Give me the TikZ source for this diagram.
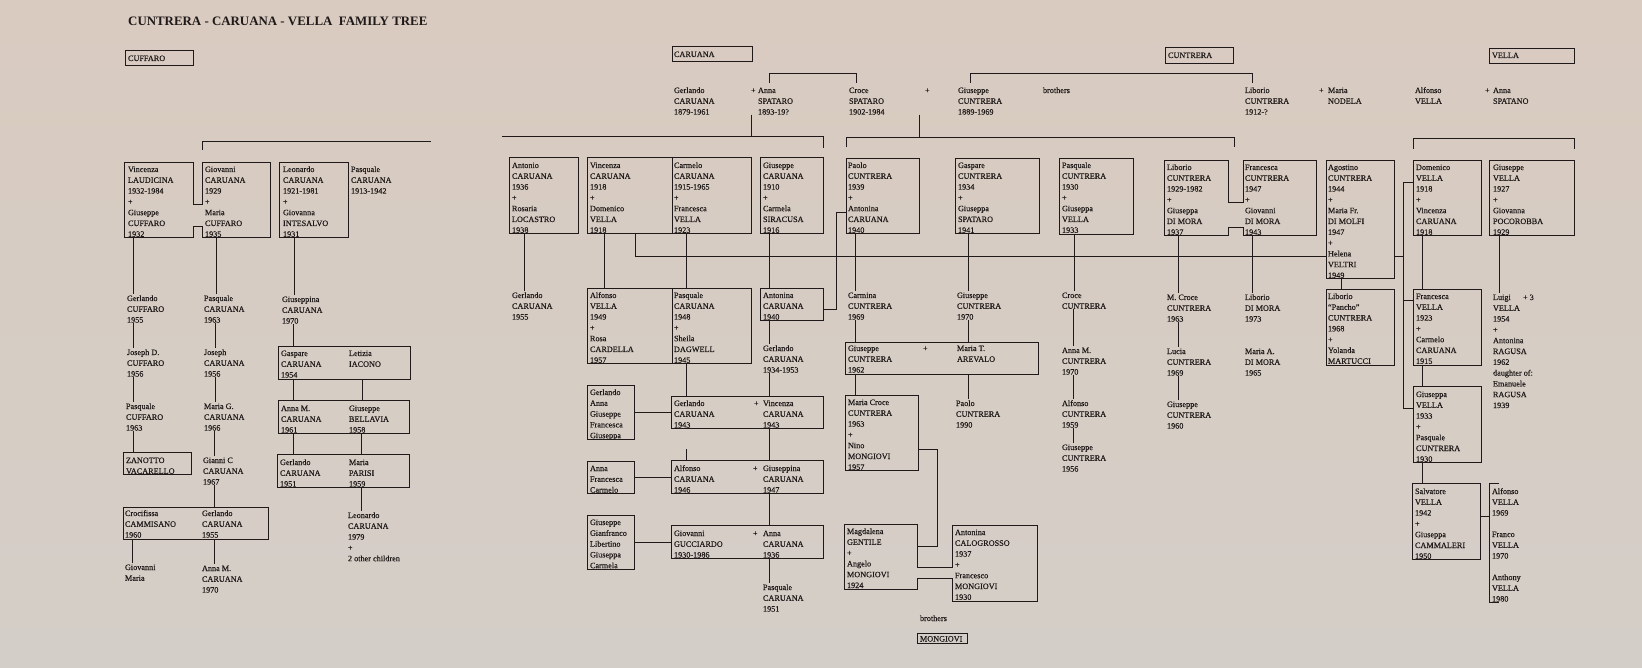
\documentclass[tikz,border=0pt]{standalone}
\usepackage{fontspec}
\setmainfont{Liberation Serif}
\newfontfamily\bodyff{Liberation Serif}[FakeBold=0.35]
\definecolor{ink}{HTML}{1F1A19}
\definecolor{paperA}{HTML}{D9CBC0}
\definecolor{paperB}{HTML}{D4CEC8}
\newcommand{\bodyfont}{\bodyff\fontsize{8.2}{10.8}\selectfont}
\newcommand{\Ptxt}[4]{\node[ptxt] (#1) at (#2,#3-7) {\rule{0pt}{7pt}#4};}
\newcommand{\Pbox}[5]{\node[pbox, minimum width={(#4-#2)*1pt}, minimum height={(#5-#3)*1pt}] (#1) at (#2,#3) {};}
\newcommand{\Pboxi}[5]{\node[pboxi, minimum width={(#4-#2)*1pt}, minimum height={(#5-#3)*1pt}] (#1) at (#2,#3) {};}
\newcommand{\Vc}[3]{\draw[conn] (#2.south -| #1,0) -- (#3.north -| #1,0);}
\begin{document}
\begin{tikzpicture}[x=1pt,y=-1pt,
  ptxt/.style={anchor=north west, inner sep=0pt, outer sep=0pt, align=left, font=\bodyfont, text=ink},
  pbox/.style={draw=ink, line width=0.9pt, anchor=north west, inner sep=0pt, outer sep=0pt},
  pboxi/.style={anchor=north west, inner sep=0pt, outer sep=0pt},
  conn/.style={draw=ink, line width=0.9pt}]
\shade[top color=paperA, bottom color=paperB] (0,0) rectangle (1642,668);
\useasboundingbox (0,0) rectangle (1642,668);

% ================= LEFT PAGE =================
\node[font=\fontsize{12.9}{14}\selectfont\bfseries, text=ink, anchor=base west, inner sep=0pt] (title) at (128,26) {CUNTRERA - CARUANA - VELLA\ \ FAMILY TREE};
\Pbox{bCuf}{125}{50}{193}{65}
\Ptxt{tCuf}{128}{61}{CUFFARO}
\coordinate (lk) at (202,150);
\draw[conn] (lk) -- (202,141) -- (431,141);

\Pboxi{bVin}{124}{162}{193}{237}
\Pboxi{bGio}{202}{162}{270}{237}
\draw[conn] (124,162) -- (193,162) -- (193,204) -- (202,204) -- (202,162) -- (270,162) -- (270,237) -- (202,237) -- (202,226) -- (193,226) -- (193,237) -- (124,237) -- cycle;
\Ptxt{tVin}{128}{172}{Vincenza\\LAUDICINA\\1932-1984\\+\\Giuseppe\\CUFFARO\\1932}
\Ptxt{tGio}{205}{172}{Giovanni\\CARUANA\\1929\\+\\Maria\\CUFFARO\\1935}
\Pbox{bLeo}{279}{162}{348}{237}
\Ptxt{tLeo}{283}{172}{Leonardo\\CARUANA\\1921-1981\\+\\Giovanna\\INTESALVO\\1931}
\Ptxt{tPasC}{351}{172}{Pasquale\\CARUANA\\1913-1942}

\Ptxt{tGerCu}{127}{301}{Gerlando\\CUFFARO\\1955}
\Ptxt{tJosD}{127}{355}{Joseph D.\\CUFFARO\\1956}
\Ptxt{tPasCu}{126}{409}{Pasquale\\CUFFARO\\1963}
\Pbox{bZan}{123}{452}{191}{474}
\Ptxt{tZan}{126}{463}{ZANOTTO\\VACARELLO}
\Vc{133}{bVin}{tGerCu}
\Vc{133}{tGerCu}{tJosD}
\Vc{133}{tJosD}{tPasCu}
\Vc{133}{tPasCu}{bZan}

\Ptxt{tPasCa}{204}{301}{Pasquale\\CARUANA\\1963}
\Ptxt{tJos}{204}{355}{Joseph\\CARUANA\\1956}
\Ptxt{tMarG}{204}{409}{Maria G.\\CARUANA\\1966}
\Ptxt{tGia}{203}{463}{Gianni C\\CARUANA\\1967}
\Pbox{bCro}{123}{507}{268}{539}
\Ptxt{tCro}{125}{516}{Crocifissa\\CAMMISANO\\1960}
\Ptxt{tGerC}{202}{516}{Gerlando\\CARUANA\\1955}
\Ptxt{tGioM}{125}{570}{Giovanni\\Maria}
\Ptxt{tAnnM}{202}{571}{Anna M.\\CARUANA\\1970}
\Vc{216}{bGio}{tPasCa}
\Vc{215}{tPasCa}{tJos}
\Vc{215}{tJos}{tMarG}
\Vc{214}{tMarG}{tGia}
\Vc{214}{tGia}{bCro}
\Vc{132}{bCro}{tGioM}
\Vc{214}{bCro}{tAnnM}

\Ptxt{tGiup}{282}{302}{Giuseppina\\CARUANA\\1970}
\Pbox{bGas}{278}{346}{410}{379}
\Ptxt{tGas}{281}{356}{Gaspare\\CARUANA\\1954}
\Ptxt{tLet}{349}{356}{Letizia\\IACONO}
\Pbox{bAnn}{278}{400}{409}{433}
\Ptxt{tAnnC}{281}{411}{Anna M.\\CARUANA\\1961}
\Ptxt{tBel}{349}{411}{Giuseppe\\BELLAVIA\\1958}
\Pbox{bGerP}{277}{454}{409}{487}
\Ptxt{tGerP}{280}{465}{Gerlando\\CARUANA\\1951}
\Ptxt{tMarP}{349}{465}{Maria\\PARISI\\1959}
\Ptxt{tLeoC}{348}{518}{Leonardo\\CARUANA\\1979\\+\\2 other children}
\Vc{294}{bLeo}{tGiup}
\Vc{293}{tGiup}{bGas}
\Vc{293}{bGas}{bAnn}
\Vc{362}{bGas}{bAnn}
\Vc{293}{bAnn}{bGerP}
\Vc{361}{bAnn}{bGerP}
\Vc{361}{bGerP}{tLeoC}

% ================= HEADERS / TOP GENERATION =================
\Pbox{bCar}{672}{46}{752}{61}
\Ptxt{tCar}{674}{57}{CARUANA}
\Ptxt{tGerl}{674}{93}{Gerlando\\CARUANA\\1879-1961}
\Ptxt{tPl1}{751}{93}{+}
\Ptxt{tAnna}{758}{93}{Anna\\SPATARO\\1893-19?}
\Ptxt{tCroce}{849}{93}{Croce\\SPATARO\\1902-1984}
\Ptxt{tPl2}{925}{93}{+}
\Ptxt{tGiuC}{958}{93}{Giuseppe\\CUNTRERA\\1889-1969}
\Ptxt{tBro1}{1043}{93}{brothers}
\Pbox{bCun}{1165}{47}{1233}{63}
\Ptxt{tCun}{1168}{58}{CUNTRERA}
\Ptxt{tLib}{1245}{93}{Liborio\\CUNTRERA\\1912-?}
\Ptxt{tPl3}{1319}{93}{+}
\Ptxt{tNod}{1328}{93}{Maria\\NODELA}
\Ptxt{tAlfV}{1415}{93}{Alfonso\\VELLA}
\Ptxt{tPl4}{1485}{93}{+}
\Ptxt{tSpa}{1493}{93}{Anna\\SPATANO}
\Pbox{bVel}{1489}{48}{1574}{63}
\Ptxt{tVel}{1492}{58}{VELLA}

\draw[conn] (769,83) -- (769,73) -- (856,73) -- (856,83);
\draw[conn] (970,83) -- (970,73) -- (1252,73) -- (1252,83);
\draw[conn] (1413,149) -- (1413,138) -- (1574,138) -- (1574,149);
\draw[conn] (tGerl.south -| 751,0) -- (751,136);
\draw[conn] (502,136) -- (823,136) -- (823,148);
\draw[conn] (tCroce.south -| 919,0) -- (919,137);
\draw[conn] (846,147) -- (846,137) -- (1234,137) -- (1234,147);

% ================= SECOND GENERATION ROW =================
\Pbox{bAnt}{509}{157}{578}{233}
\Ptxt{tAnt}{512}{168}{Antonio\\CARUANA\\1936\\+\\Rosaria\\LOCASTRO\\1938}
\Pbox{bVC}{587}{157}{751}{233}
\draw[conn] (bVC.north -| 672,0) -- (bVC.south -| 672,0);
\Ptxt{tVinC}{590}{168}{Vincenza\\CARUANA\\1918\\+\\Domenico\\VELLA\\1918}
\Ptxt{tCarm}{674}{168}{Carmelo\\CARUANA\\1915-1965\\+\\Francesca\\VELLA\\1923}
\Pbox{bGiuCa}{760}{157}{823}{233}
\Ptxt{tGiuCa}{763}{168}{Giuseppe\\CARUANA\\1910\\+\\Carmela\\SIRACUSA\\1916}
\Pbox{bPao}{846}{158}{919}{233}
\Ptxt{tPao}{848}{168}{Paolo\\CUNTRERA\\1939\\+\\Antonina\\CARUANA\\1940}
\Pbox{bGas2}{955}{158}{1039}{233}
\Ptxt{tGas2}{958}{168}{Gaspare\\CUNTRERA\\1934\\+\\Giuseppa\\SPATARO\\1941}
\Pbox{bPas2}{1059}{158}{1133}{234}
\Ptxt{tPas2}{1062}{168}{Pasquale\\CUNTRERA\\1930\\+\\Giuseppa\\VELLA\\1933}
\Pboxi{bLib}{1164}{160}{1228}{235}
\Pboxi{bFra}{1243}{160}{1316}{235}
\draw[conn] (1164,160) -- (1228,160) -- (1228,202) -- (1243,202) -- (1243,160) -- (1316,160) -- (1316,235) -- (1243,235) -- (1243,227) -- (1228,227) -- (1228,235) -- (1164,235) -- cycle;
\Ptxt{tLib2}{1167}{170}{Liborio\\CUNTRERA\\1929-1982\\+\\Giuseppa\\DI MORA\\1937}
\Ptxt{tFra}{1245}{170}{Francesca\\CUNTRERA\\1947\\+\\Giovanni\\DI MORA\\1943}
\Pbox{bAgo}{1326}{160}{1394}{278}
\Ptxt{tAgo}{1328}{170}{Agostino\\CUNTRERA\\1944\\+\\Maria Fr.\\DI MOLFI\\1947\\+\\Helena\\VELTRI\\1949}
\Pbox{bDom}{1413}{160}{1481}{235}
\Ptxt{tDom}{1416}{170}{Domenico\\VELLA\\1918\\+\\Vincenza\\CARUANA\\1918}
\Pbox{bGiuV}{1489}{160}{1574}{235}
\Ptxt{tGiuV}{1493}{170}{Giuseppe\\VELLA\\1927\\+\\Giovanna\\POCOROBBA\\1929}

% ================= CARUANA DESCENDANTS =================
\Ptxt{tGerA}{512}{298}{Gerlando\\CARUANA\\1955}
\Vc{524}{bAnt}{tGerA}
\Pbox{bAP}{587}{288}{751}{363}
\draw[conn] (bAP.north -| 672,0) -- (bAP.south -| 672,0);
\Ptxt{tAlfV2}{590}{298}{Alfonso\\VELLA\\1949\\+\\Rosa\\CARDELLA\\1957}
\Ptxt{tPasq}{674}{298}{Pasquale\\CARUANA\\1948\\+\\Sheila\\DAGWELL\\1945}
\Vc{604}{bVC}{bAP}
\Vc{686}{bVC}{bAP}
\draw[conn] (bVC.south -| 635,0) -- (635,256) -- (bAgo.west |- 0,256);
\draw[conn] (bAgo.east |- 0,256) -- (1403,256);

\Pbox{bAntC}{760}{288}{823}{320}
\Ptxt{tAntC}{763}{298}{Antonina\\CARUANA\\1940}
\Vc{769}{bGiuCa}{bAntC}
\draw[conn] (bAntC.east |- 0,309) -- (836,309) -- (836,212) -- (bPao.west |- 0,212);
\Ptxt{tGerB}{763}{351}{Gerlando\\CARUANA\\1934-1953}
\Vc{769}{bAntC}{tGerB}

\Pbox{bGV}{671}{396}{823}{428}
\Ptxt{tGerV}{674}{406}{Gerlando\\CARUANA\\1943}
\Ptxt{tPl5}{754}{406}{+}
\Ptxt{tVinV}{763}{406}{Vincenza\\CARUANA\\1943}
\Vc{769}{tGerB}{bGV}
\Vc{686}{bAP}{bGV}
\Pbox{bCh1}{587}{385}{634}{439}
\Ptxt{tCh1}{590}{395}{Gerlando\\Anna\\Giuseppe\\Francesca\\Giuseppa}
\draw[conn] (bCh1.east) -- (bGV.west |- bCh1.east);

\Pbox{bAG}{671}{460}{823}{493}
\Ptxt{tAlfC}{674}{471}{Alfonso\\CARUANA\\1946}
\Ptxt{tPl6}{753}{471}{+}
\Ptxt{tGiup2}{763}{471}{Giuseppina\\CARUANA\\1947}
\Vc{769}{bGV}{bAG}
\draw[conn] (686,449) -- (bAG.north -| 686,0);
\Pbox{bCh2}{587}{461}{634}{493}
\Ptxt{tCh2}{590}{471}{Anna\\Francesca\\Carmelo}
\draw[conn] (bCh2.east) -- (bAG.west |- bCh2.east);

\Pbox{bGA}{671}{525}{823}{558}
\Ptxt{tGucc}{674}{536}{Giovanni\\GUCCIARDO\\1930-1986}
\Ptxt{tPl7}{753}{536}{+}
\Ptxt{tAnnaC}{763}{536}{Anna\\CARUANA\\1936}
\Vc{769}{bAG}{bGA}
\Pbox{bCh3}{587}{515}{634}{569}
\Ptxt{tCh3}{590}{525}{Giuseppe\\Gianfranco\\Libertino\\Giuseppa\\Carmela}
\draw[conn] (bCh3.east) -- (bGA.west |- bCh3.east);
\Ptxt{tPasCa2}{763}{590}{Pasquale\\CARUANA\\1951}
\Vc{769}{bGA}{tPasCa2}

% ================= CUNTRERA DESCENDANTS =================
\Ptxt{tCarm2}{848}{298}{Carmina\\CUNTRERA\\1969}
\Vc{855}{bPao}{tCarm2}
\Pbox{bGM}{845}{342}{1038}{374}
\Ptxt{tGiuC2}{848}{351}{Giuseppe\\CUNTRERA\\1962}
\Ptxt{tPl8}{923}{351}{+}
\Ptxt{tMarT}{957}{351}{Maria T.\\AREVALO}
\Vc{855}{tCarm2}{bGM}
\Ptxt{tGiuC3}{957}{298}{Giuseppe\\CUNTRERA\\1970}
\Vc{968}{bGas2}{tGiuC3}
\Vc{968}{tGiuC3}{bGM}
\Ptxt{tPaoC}{956}{406}{Paolo\\CUNTRERA\\1990}
\Vc{968}{bGM}{tPaoC}
\Pbox{bMC}{845}{395}{918}{470}
\Ptxt{tMC}{848}{405}{Maria Croce\\CUNTRERA\\1963\\+\\Nino\\MONGIOVI\\1957}
\Vc{855}{bGM}{bMC}

\Pboxi{bMag}{844}{524}{917}{589}
\Pboxi{bAnto}{952}{525}{1037}{601}
\draw[conn] (844,524) -- (917,524) -- (917,567) -- (952,567) -- (952,525) -- (1037,525) -- (1037,601) -- (952,601) -- (952,578) -- (917,578) -- (917,589) -- (844,589) -- cycle;
\Ptxt{tMag}{847}{534}{Magdalena\\GENTILE\\+\\Angelo\\MONGIOVI\\1924}
\Ptxt{tAnto}{955}{535}{Antonina\\CALOGROSSO\\1937\\+\\Francesco\\MONGIOVI\\1930}
\draw[conn] (bMC.east |- 0,449) -- (937,449) -- (937,546) -- (bMag.east |- 0,546);
\Ptxt{tBro2}{920}{621}{brothers}
\Pbox{bMon}{917}{633}{967}{643}
\Ptxt{tMon}{920}{641.5}{MONGIOVI}

\Ptxt{tCro2}{1062}{298}{Croce\\CUNTRERA}
\Vc{1074}{bPas2}{tCro2}
\Ptxt{tAnnM2}{1062}{353}{Anna M.\\CUNTRERA\\1970}
\Vc{1073}{tCro2}{tAnnM2}
\Ptxt{tAlfC2}{1062}{406}{Alfonso\\CUNTRERA\\1959}
\Vc{1073}{tAnnM2}{tAlfC2}
\Ptxt{tGiuC4}{1062}{450}{Giuseppe\\CUNTRERA\\1956}
\Vc{1073}{tAlfC2}{tGiuC4}

\Ptxt{tMCr}{1167}{300}{M. Croce\\CUNTRERA\\1963}
\Vc{1178}{bLib}{tMCr}
\Ptxt{tLuc}{1167}{354}{Lucia\\CUNTRERA\\1969}
\Vc{1178}{tMCr}{tLuc}
\Ptxt{tGiuC5}{1167}{407}{Giuseppe\\CUNTRERA\\1960}
\Vc{1178}{tLuc}{tGiuC5}

\Ptxt{tLibD}{1245}{300}{Liborio\\DI MORA\\1973}
\Vc{1252}{bFra}{tLibD}
\Ptxt{tMarA}{1245}{354}{Maria A.\\DI MORA\\1965}
\Pbox{bPan}{1326}{289}{1394}{365}
\Ptxt{tPan}{1328}{299}{Liborio\\“Pancho”\\CUNTRERA\\1968\\+\\Yolanda\\MARTUCCI}
\Vc{1341}{bAgo}{bPan}

% ================= VELLA DESCENDANTS =================
\Pbox{bFraV}{1413}{289}{1481}{365}
\Ptxt{tFraV}{1416}{299}{Francesca\\VELLA\\1923\\+\\Carmelo\\CARUANA\\1915}
\Vc{1422}{bDom}{bFraV}
\Pbox{bGiuV2}{1413}{386}{1481}{462}
\Ptxt{tGiupV}{1416}{397}{Giuseppa\\VELLA\\1933\\+\\Pasquale\\CUNTRERA\\1930}
\Vc{1422}{bFraV}{bGiuV2}
\draw[conn] (bDom.west |- 0,182) -- (1403,182) -- (1403,408) -- (bGiuV2.west |- 0,408);
\draw[conn] (1403,300) -- (bFraV.west |- 0,300);
\Pbox{bSal}{1412}{483}{1480}{559}
\Ptxt{tSal}{1415}{494}{Salvatore\\VELLA\\1942\\+\\Giuseppa\\CAMMALERI\\1950}
\Vc{1422}{bGiuV2}{bSal}
\Ptxt{tAlfV3}{1492}{494}{Alfonso\\VELLA\\1969}
\Ptxt{tFraV2}{1492}{537}{Franco\\VELLA\\1970}
\Ptxt{tAnth}{1492}{580}{Anthony\\VELLA\\1980}
\draw[conn] (bSal.east |- 0,516) -- (1489,516);
\draw[conn] (1499,483) -- (1489,483) -- (1489,602) -- (1499,602);
\Ptxt{tLui}{1493}{300}{Luigi\\VELLA\\1954\\+\\Antonina\\RAGUSA\\1962\\daughter of:\\Emanuele\\RAGUSA\\1939}
\Ptxt{tPl9}{1523}{300}{+ 3}
\Vc{1499}{bGiuV}{tLui}
\end{tikzpicture}
\end{document}
